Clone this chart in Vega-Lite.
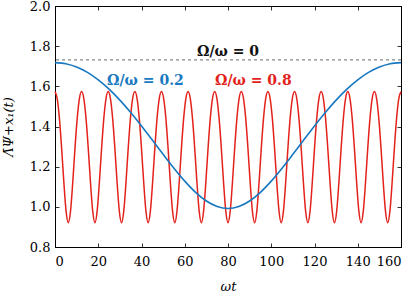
{
  "$schema": "https://vega.github.io/schema/vega-lite/v6.json",
  "autosize": {"type": "none"},
  "padding": {"left": 55, "top": 6, "right": 14, "bottom": 48},
  "width": 346,
  "height": 241,
  "background": "white",
  "config": {
    "view": {"stroke": "black", "strokeWidth": 1},
    "font": "DejaVu Serif",
    "axis": {"grid": false, "domainColor": "black", "tickColor": "black", "labelColor": "black", "titleColor": "black", "labelFont": "DejaVu Serif", "titleFont": "DejaVu Serif", "labelFontSize": 13, "titleFontSize": 13, "titleFontWeight": "normal", "tickSize": -4, "tickWidth": 0.8, "domainWidth": 1}
  },
  "datasets": {
    "blue": [
      {"t": 0, "v": 1.7182}, {"t": 5, "v": 1.7127}, {"t": 10, "v": 1.6962}, {"t": 15, "v": 1.6692}, {"t": 20, "v": 1.6322}, {"t": 25, "v": 1.5858}, {"t": 30, "v": 1.5312}, {"t": 35, "v": 1.4697}, {"t": 40, "v": 1.4029}, {"t": 45, "v": 1.3327}, {"t": 50, "v": 1.2616}, {"t": 55, "v": 1.1922}, {"t": 60, "v": 1.128}, {"t": 65, "v": 1.0723}, {"t": 70, "v": 1.0291}, {"t": 75, "v": 1.0015}, {"t": 80, "v": 0.992},
      {"t": 85, "v": 1.0015}, {"t": 90, "v": 1.0291}, {"t": 95, "v": 1.0723}, {"t": 100, "v": 1.128}, {"t": 105, "v": 1.1922}, {"t": 110, "v": 1.2616}, {"t": 115, "v": 1.3327}, {"t": 120, "v": 1.4029}, {"t": 125, "v": 1.4697}, {"t": 130, "v": 1.5312}, {"t": 135, "v": 1.5858}, {"t": 140, "v": 1.6322}, {"t": 145, "v": 1.6692}, {"t": 150, "v": 1.6962}, {"t": 155, "v": 1.7127}, {"t": 160, "v": 1.7182}
    ],
    "red": [
      {"t": 0, "v": 1.574}, {"t": 1.026, "v": 1.539}, {"t": 2.051, "v": 1.439}, {"t": 3.077, "v": 1.29}, {"t": 4.103, "v": 1.121}, {"t": 5.128, "v": 0.979}, {"t": 6.154, "v": 0.921}, {"t": 7.179, "v": 0.979}, {"t": 8.205, "v": 1.121}, {"t": 9.231, "v": 1.29}, {"t": 10.256, "v": 1.439}, {"t": 11.282, "v": 1.539},
      {"t": 12.308, "v": 1.574}, {"t": 13.333, "v": 1.539}, {"t": 14.359, "v": 1.439}, {"t": 15.385, "v": 1.29}, {"t": 16.41, "v": 1.121}, {"t": 17.436, "v": 0.979}, {"t": 18.462, "v": 0.921}, {"t": 19.487, "v": 0.979}, {"t": 20.513, "v": 1.121}, {"t": 21.538, "v": 1.29}, {"t": 22.564, "v": 1.439}, {"t": 23.59, "v": 1.539},
      {"t": 24.615, "v": 1.574}, {"t": 25.641, "v": 1.539}, {"t": 26.667, "v": 1.439}, {"t": 27.692, "v": 1.29}, {"t": 28.718, "v": 1.121}, {"t": 29.744, "v": 0.979}, {"t": 30.769, "v": 0.921}, {"t": 31.795, "v": 0.979}, {"t": 32.821, "v": 1.121}, {"t": 33.846, "v": 1.29}, {"t": 34.872, "v": 1.439}, {"t": 35.897, "v": 1.539},
      {"t": 36.923, "v": 1.574}, {"t": 37.949, "v": 1.539}, {"t": 38.974, "v": 1.439}, {"t": 40.0, "v": 1.29}, {"t": 41.026, "v": 1.121}, {"t": 42.051, "v": 0.979}, {"t": 43.077, "v": 0.921}, {"t": 44.103, "v": 0.979}, {"t": 45.128, "v": 1.121}, {"t": 46.154, "v": 1.29}, {"t": 47.179, "v": 1.439}, {"t": 48.205, "v": 1.539},
      {"t": 49.231, "v": 1.574}, {"t": 50.256, "v": 1.539}, {"t": 51.282, "v": 1.439}, {"t": 52.308, "v": 1.29}, {"t": 53.333, "v": 1.121}, {"t": 54.359, "v": 0.979}, {"t": 55.385, "v": 0.921}, {"t": 56.41, "v": 0.979}, {"t": 57.436, "v": 1.121}, {"t": 58.462, "v": 1.29}, {"t": 59.487, "v": 1.439}, {"t": 60.513, "v": 1.539},
      {"t": 61.538, "v": 1.574}, {"t": 62.564, "v": 1.539}, {"t": 63.59, "v": 1.439}, {"t": 64.615, "v": 1.29}, {"t": 65.641, "v": 1.121}, {"t": 66.667, "v": 0.979}, {"t": 67.692, "v": 0.921}, {"t": 68.718, "v": 0.979}, {"t": 69.744, "v": 1.121}, {"t": 70.769, "v": 1.29}, {"t": 71.795, "v": 1.439}, {"t": 72.821, "v": 1.539},
      {"t": 73.846, "v": 1.574}, {"t": 74.872, "v": 1.539}, {"t": 75.897, "v": 1.439}, {"t": 76.923, "v": 1.29}, {"t": 77.949, "v": 1.121}, {"t": 78.974, "v": 0.979}, {"t": 80.0, "v": 0.921}, {"t": 81.026, "v": 0.979}, {"t": 82.051, "v": 1.121}, {"t": 83.077, "v": 1.29}, {"t": 84.103, "v": 1.439}, {"t": 85.128, "v": 1.539},
      {"t": 86.154, "v": 1.574}, {"t": 87.179, "v": 1.539}, {"t": 88.205, "v": 1.439}, {"t": 89.231, "v": 1.29}, {"t": 90.256, "v": 1.121}, {"t": 91.282, "v": 0.979}, {"t": 92.308, "v": 0.921}, {"t": 93.333, "v": 0.979}, {"t": 94.359, "v": 1.121}, {"t": 95.385, "v": 1.29}, {"t": 96.41, "v": 1.439}, {"t": 97.436, "v": 1.539},
      {"t": 98.462, "v": 1.574}, {"t": 99.487, "v": 1.539}, {"t": 100.513, "v": 1.439}, {"t": 101.538, "v": 1.29}, {"t": 102.564, "v": 1.121}, {"t": 103.59, "v": 0.979}, {"t": 104.615, "v": 0.921}, {"t": 105.641, "v": 0.979}, {"t": 106.667, "v": 1.121}, {"t": 107.692, "v": 1.29}, {"t": 108.718, "v": 1.439}, {"t": 109.744, "v": 1.539},
      {"t": 110.769, "v": 1.574}, {"t": 111.795, "v": 1.539}, {"t": 112.821, "v": 1.439}, {"t": 113.846, "v": 1.29}, {"t": 114.872, "v": 1.121}, {"t": 115.897, "v": 0.979}, {"t": 116.923, "v": 0.921}, {"t": 117.949, "v": 0.979}, {"t": 118.974, "v": 1.121}, {"t": 120.0, "v": 1.29}, {"t": 121.026, "v": 1.439}, {"t": 122.051, "v": 1.539},
      {"t": 123.077, "v": 1.574}, {"t": 124.103, "v": 1.539}, {"t": 125.128, "v": 1.439}, {"t": 126.154, "v": 1.29}, {"t": 127.179, "v": 1.121}, {"t": 128.205, "v": 0.979}, {"t": 129.231, "v": 0.921}, {"t": 130.256, "v": 0.979}, {"t": 131.282, "v": 1.121}, {"t": 132.308, "v": 1.29}, {"t": 133.333, "v": 1.439}, {"t": 134.359, "v": 1.539},
      {"t": 135.385, "v": 1.574}, {"t": 136.41, "v": 1.539}, {"t": 137.436, "v": 1.439}, {"t": 138.462, "v": 1.29}, {"t": 139.487, "v": 1.121}, {"t": 140.513, "v": 0.979}, {"t": 141.538, "v": 0.921}, {"t": 142.564, "v": 0.979}, {"t": 143.59, "v": 1.121}, {"t": 144.615, "v": 1.29}, {"t": 145.641, "v": 1.439}, {"t": 146.667, "v": 1.539},
      {"t": 147.692, "v": 1.574}, {"t": 148.718, "v": 1.539}, {"t": 149.744, "v": 1.439}, {"t": 150.769, "v": 1.29}, {"t": 151.795, "v": 1.121}, {"t": 152.821, "v": 0.979}, {"t": 153.846, "v": 0.921}, {"t": 154.872, "v": 0.979}, {"t": 155.897, "v": 1.121}, {"t": 156.923, "v": 1.29}, {"t": 157.949, "v": 1.439}, {"t": 158.974, "v": 1.539},
      {"t": 160, "v": 1.574}
    ],
    "ref": [{"v": 1.732}],
    "labels": [
      {"t": 80, "v": 1.772, "label": "Ω/ω = 0", "series": "k"},
      {"t": 41.8, "v": 1.628, "label": "Ω/ω = 0.2", "series": "b"},
      {"t": 91.7, "v": 1.628, "label": "Ω/ω = 0.8", "series": "r"}
    ]
  },
  "resolve": {"axis": {"x": "independent", "y": "independent"}},
  "layer": [
    {
      "data": {"name": "ref"},
      "mark": {"type": "rule", "color": "#888888", "strokeWidth": 1.3, "strokeDash": [3, 3]},
      "encoding": {
        "y": {"field": "v", "type": "quantitative", "scale": {"domain": [0.8, 2.0], "nice": false, "zero": false}, "axis": null}
      }
    },
    {
      "data": {"name": "red"},
      "mark": {"type": "line", "color": "#e3221c", "strokeWidth": 1.5, "interpolate": "monotone"},
      "encoding": {
        "x": {"field": "t", "type": "quantitative", "scale": {"domain": [0, 160], "nice": false, "zero": false}, "axis": {"orient": "top", "labels": false, "title": null, "values": [0, 20, 40, 60, 80, 100, 120, 140, 160]}},
        "y": {"field": "v", "type": "quantitative", "scale": {"domain": [0.8, 2.0], "nice": false, "zero": false}, "axis": {"orient": "right", "labels": false, "title": null, "values": [0.8, 1.0, 1.2, 1.4, 1.6, 1.8, 2.0]}}
      }
    },
    {
      "data": {"name": "blue"},
      "mark": {"type": "line", "color": "#1878c0", "strokeWidth": 1.6, "interpolate": "monotone"},
      "encoding": {
        "x": {"field": "t", "type": "quantitative", "axis": {"orient": "bottom", "title": "ωt", "titleFontStyle": "italic", "titlePadding": 12, "labelPadding": 12, "labelFont": "DejaVu Serif", "labelFontSize": 13, "values": [0, 20, 40, 60, 80, 100, 120, 140, 160]}},
        "y": {"field": "v", "type": "quantitative", "axis": {"orient": "left", "title": "Λ̄Ψ+x₁(t)", "titleFontStyle": "italic", "titlePadding": 14, "labelPadding": 9, "labelFont": "DejaVu Serif", "labelFontSize": 13, "format": ".1f", "values": [0.8, 1.0, 1.2, 1.4, 1.6, 1.8, 2.0]}}
      }
    },
    {
      "data": {"name": "labels"},
      "mark": {"type": "text", "fontWeight": "bold", "fontSize": 14, "font": "DejaVu Serif", "align": "center", "baseline": "middle"},
      "encoding": {
        "x": {"field": "t", "type": "quantitative", "axis": null},
        "y": {"field": "v", "type": "quantitative", "axis": null},
        "text": {"field": "label"},
        "color": {"field": "series", "type": "nominal", "scale": {"domain": ["k", "b", "r"], "range": ["#111111", "#1878c0", "#e3221c"]}, "legend": null}
      }
    }
  ]
}
